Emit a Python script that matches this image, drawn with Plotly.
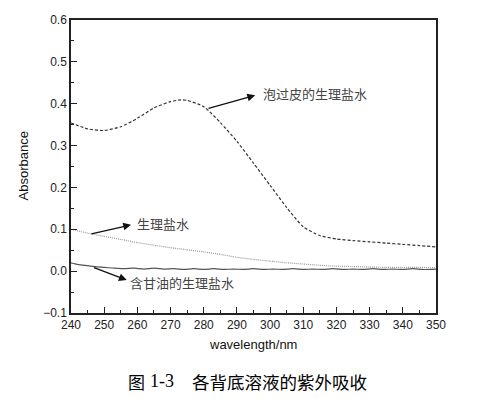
import plotly.graph_objects as go

# ---- data ----
wl_main = [240, 245, 250, 255, 260, 265, 270, 273, 275, 280, 285, 290, 295, 300,
           305, 310, 315, 320, 325, 330, 335, 340, 345, 350]
abs_skin = [0.354, 0.340, 0.336, 0.345, 0.365, 0.390, 0.405, 0.409, 0.408, 0.393,
            0.355, 0.310, 0.258, 0.205, 0.152, 0.106, 0.085, 0.077, 0.073, 0.070,
            0.067, 0.064, 0.061, 0.058]

wl_salt = [240, 245, 250, 255, 260, 265, 270, 275, 280, 285, 290, 295, 300, 305,
           310, 315, 320, 325, 330, 335, 340, 345, 350]
abs_salt = [0.100, 0.091, 0.083, 0.076, 0.068, 0.062, 0.056, 0.051, 0.046, 0.040,
            0.033, 0.028, 0.024, 0.020, 0.017, 0.014, 0.012, 0.011, 0.010, 0.009,
            0.009, 0.009, 0.008]

wl_gly = [240, 242, 245, 248, 250, 253, 256, 259, 262, 265, 268, 271, 274, 277,
          280, 283, 286, 289, 292, 295, 298, 301, 304, 307, 310, 313, 316, 319,
          322, 325, 328, 331, 334, 337, 340, 343, 346, 350]
abs_gly = [0.020, 0.016, 0.013, 0.010, 0.009, 0.007, 0.006, 0.007, 0.005, 0.007,
           0.005, 0.006, 0.004, 0.006, 0.004, 0.006, 0.004, 0.005, 0.004, 0.006,
           0.004, 0.005, 0.004, 0.006, 0.004, 0.005, 0.004, 0.006, 0.004, 0.005,
           0.004, 0.006, 0.004, 0.005, 0.004, 0.006, 0.004, 0.005]

x_ticks = [240, 250, 260, 270, 280, 290, 300, 310, 320, 330, 340, 350]
y_ticks = [-0.1, 0.0, 0.1, 0.2, 0.3, 0.4, 0.5, 0.6]

label_skin = "泡过皮的生理盐水"
label_salt = "生理盐水"
label_gly = "含甘油的生理盐水"
caption_fig = "图"
caption_num = "1-3"
caption_text = "各背底溶液的紫外吸收"

fig = go.Figure()
fig.add_trace(go.Scatter(x=wl_main, y=abs_skin, mode="lines",
                         line=dict(color="#333333", width=1.2, dash="3px,2px", shape="spline", smoothing=0.6)))
fig.add_trace(go.Scatter(x=wl_salt, y=abs_salt, mode="lines",
                         line=dict(color="#999999", width=1.2, dash="1px,1px", shape="spline", smoothing=0.6)))
fig.add_trace(go.Scatter(x=wl_gly, y=abs_gly, mode="lines",
                         line=dict(color="#555555", width=1.2, shape="spline", smoothing=0.6)))

cjk = "Noto Sans CJK SC"
anns = []
# arrows (head at x,y ; tail at ax,ay)
arrows = [
    (295.5, 0.420, 281.0, 0.388),
    (258.1, 0.1107, 245.7, 0.0883),
    (256.8, -0.0214, 246.5, 0.0097),
]
for hx, hy, tx, ty in arrows:
    anns.append(dict(x=hx, y=hy, ax=tx, ay=ty, xref="x", yref="y", axref="x", ayref="y",
                     text="", showarrow=True, arrowhead=2, arrowsize=1.2, arrowwidth=1.3,
                     arrowcolor="#111111", standoff=0, startstandoff=0))
anns += [
    dict(x=297.3, y=0.425, xref="x", yref="y", text=label_skin, showarrow=False,
         xanchor="left", yanchor="middle", font=dict(family=cjk, size=13, color="#444444")),
    dict(x=259.3, y=0.113, xref="x", yref="y", text=label_salt, showarrow=False,
         xanchor="left", yanchor="middle", font=dict(family=cjk, size=13, color="#444444")),
    dict(x=257.2, y=-0.027, xref="x", yref="y", text=label_gly, showarrow=False,
         xanchor="left", yanchor="middle", font=dict(family=cjk, size=13, color="#444444")),
    dict(x=0.498, y=-0.108, xref="paper", yref="paper", text="wavelength/nm", showarrow=False,
         xanchor="center", yanchor="middle", font=dict(family="Liberation Sans", size=13, color="#111111")),
    dict(x=-0.1315, y=0.5, xref="paper", yref="paper", text="Absorbance", showarrow=False,
         textangle=-90, xanchor="center", yanchor="middle",
         font=dict(family="Liberation Sans", size=13, color="#111111")),
    dict(x=0.150, y=-0.2333, xref="paper", yref="paper", text=caption_fig, showarrow=False,
         xanchor="left", yanchor="middle", font=dict(family=cjk, size=17, color="#000000")),
    dict(x=0.211, y=-0.2333, xref="paper", yref="paper", text=caption_num, showarrow=False,
         xanchor="left", yanchor="middle", font=dict(family="Liberation Serif", size=18, color="#000000")),
    dict(x=0.327, y=-0.2333, xref="paper", yref="paper", text=caption_text, showarrow=False,
         xanchor="left", yanchor="middle", font=dict(family=cjk, size=17.5, color="#000000")),
]

axis_common = dict(showgrid=False, zeroline=False, showline=True, linecolor="#222222",
                   linewidth=1.5, mirror=True, ticks="inside", ticklen=6, tickwidth=1.2,
                   tickcolor="#222222",
                   tickfont=dict(family="Liberation Sans", size=12, color="#222222"))

# page body has an 8px margin, so the figure is drawn at (8, 8)
fig.update_layout(
    width=475, height=391,
    margin=dict(l=63, r=47, t=5, b=86),
    paper_bgcolor="white", plot_bgcolor="white",
    showlegend=False,
    annotations=anns,
    xaxis=dict(range=[240, 350], tickvals=x_ticks,
               minor=dict(ticks="inside", ticklen=3, tickwidth=1.2, tickcolor="#222222", dtick=5),
               **axis_common),
    yaxis=dict(range=[-0.1, 0.6], tickvals=y_ticks, tickformat=".1f",
               minor=dict(ticks="inside", ticklen=3, tickwidth=1.2, tickcolor="#222222", dtick=0.05),
               **axis_common),
)

fig.write_html("out.html")
